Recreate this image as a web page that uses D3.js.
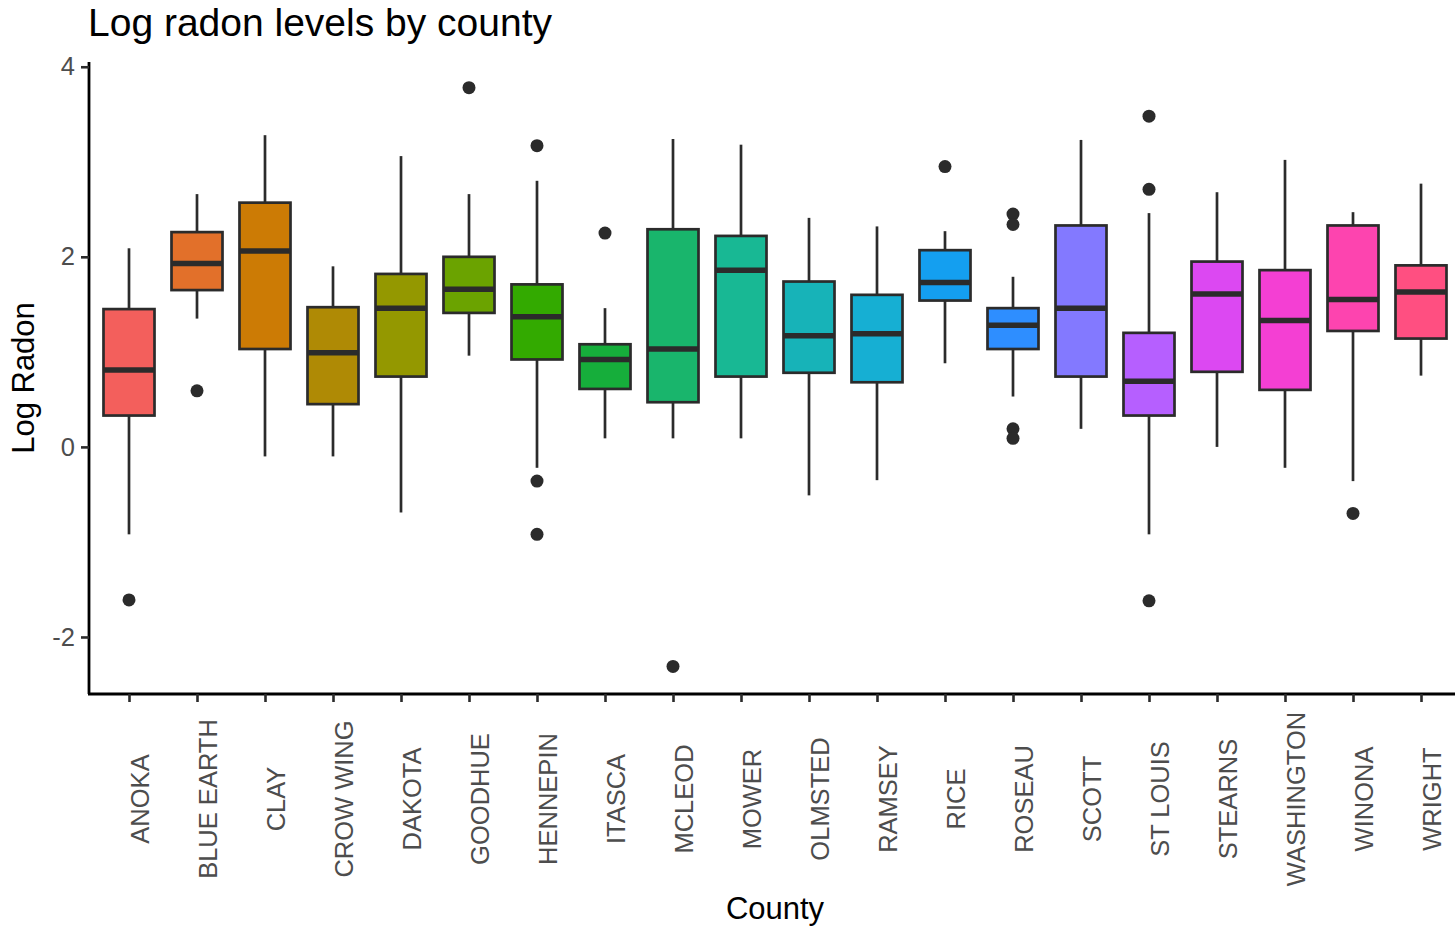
<!DOCTYPE html>
<html>
<head>
<meta charset="utf-8">
<script src="https://cdn.jsdelivr.net/npm/d3@7"></script>
<style>
  body { margin: 0; background: #fff; }
  text { font-family: "Liberation Sans", Arial, sans-serif; }
</style>
</head>
<body>
<div id="chart"></div>
<script>
var size = { width: 1455, height: 927 };

// County names on the x axis
var counties = ["ANOKA", "BLUE EARTH", "CLAY", "CROW WING", "DAKOTA", "GOODHUE", "HENNEPIN",
    "ITASCA", "MCLEOD", "MOWER", "OLMSTED", "RAMSEY", "RICE", "ROSEAU", "SCOTT", "ST LOUIS",
    "STEARNS", "WASHINGTON", "WINONA", "WRIGHT"];

// Box statistics
var whiskerLow  = [-0.92, 1.35, -0.10, -0.10, -0.69, 0.96, -0.22, 0.09, 0.09, 0.09, -0.51, -0.35, 0.88, 0.53, 0.19, -0.92, 0.00, -0.22, -0.36, 0.75];
var q1          = [0.33, 1.65, 1.03, 0.45, 0.74, 1.41, 0.92, 0.61, 0.47, 0.74, 0.78, 0.68, 1.54, 1.03, 0.74, 0.33, 0.79, 0.60, 1.22, 1.14];
var median      = [0.81, 1.93, 2.06, 0.99, 1.46, 1.66, 1.37, 0.92, 1.03, 1.86, 1.17, 1.19, 1.73, 1.28, 1.46, 0.69, 1.61, 1.33, 1.55, 1.63];
var q3          = [1.45, 2.26, 2.57, 1.47, 1.82, 2.00, 1.71, 1.08, 2.29, 2.22, 1.74, 1.60, 2.07, 1.46, 2.33, 1.20, 1.95, 1.86, 2.33, 1.91];
var whiskerHigh = [2.09, 2.66, 3.28, 1.90, 3.06, 2.66, 2.80, 1.46, 3.24, 3.18, 2.41, 2.32, 2.27, 1.79, 3.23, 2.46, 2.68, 3.02, 2.47, 2.77];
var outliers    = [[-1.61], [0.59], [], [], [], [3.78], [3.17, -0.36, -0.92], [2.25], [-2.31], [], [], [],
    [2.95], [2.45, 2.34, 0.19, 0.09], [], [3.48, 2.71, -1.62], [], [], [-0.70], []];

var fillColors = ["#F35F5C", "#E2702A", "#CC7B05", "#AF8A05", "#949800", "#6BA300", "#33AA00",
    "#16AE3B", "#19B56C", "#18B894", "#17B3B8", "#16AFD3", "#149FF0", "#2E8EFF", "#8379FF",
    "#B65FFF", "#DC48F2", "#F43FD3", "#FD44AF", "#FF4F81"];

var yTicks = [-2, 0, 2, 4];

var lineColor = "#2b2b2b";
var textGrey = "#4D4D4D";

var svg = d3.select("#chart").append("svg")
    .attr("width", size.width)
    .attr("height", size.height);

// Scales (discrete axis expanded by 0.6 of a step on each side)
var x = d3.scalePoint()
    .domain(counties)
    .range([88.2, 1461.8])
    .padding(0.6);

var y = d3.scaleLinear()
    .domain([-2.6, 4.05])
    .range([694, 62]);

var boxWidth = x.step() * 0.75;

// Boxes
var boxes = svg.append("g").selectAll("g")
    .data(counties)
    .enter()
    .append("g");

// Whiskers
boxes.append("line")
    .attr("x1", d => x(d)).attr("x2", d => x(d))
    .attr("y1", (d, i) => y(whiskerHigh[i]))
    .attr("y2", (d, i) => y(q3[i]))
    .attr("stroke", lineColor).attr("stroke-width", 2.7);

boxes.append("line")
    .attr("x1", d => x(d)).attr("x2", d => x(d))
    .attr("y1", (d, i) => y(q1[i]))
    .attr("y2", (d, i) => y(whiskerLow[i]))
    .attr("stroke", lineColor).attr("stroke-width", 2.7);

boxes.append("rect")
    .attr("x", d => x(d) - boxWidth / 2)
    .attr("width", boxWidth)
    .attr("y", (d, i) => y(q3[i]))
    .attr("height", (d, i) => y(q1[i]) - y(q3[i]))
    .attr("fill", (d, i) => fillColors[i])
    .attr("stroke", lineColor).attr("stroke-width", 2.7);

// Median
boxes.append("line")
    .attr("x1", d => x(d) - boxWidth / 2)
    .attr("x2", d => x(d) + boxWidth / 2)
    .attr("y1", (d, i) => y(median[i]))
    .attr("y2", (d, i) => y(median[i]))
    .attr("stroke", lineColor).attr("stroke-width", 5.5);

// Outliers
boxes.each(function (d, i) {
    d3.select(this).selectAll("circle")
        .data(outliers[i])
        .enter()
        .append("circle")
        .attr("cx", x(d))
        .attr("cy", v => y(v))
        .attr("r", 6.5)
        .attr("fill", lineColor);
});

// Y axis
var yAxis = svg.append("g")
    .attr("transform", "translate(89,0)")
    .call(d3.axisLeft(y).tickValues(yTicks).tickSize(8).tickPadding(6).tickFormat(d => String(d)));
yAxis.select(".domain").attr("stroke", "#000").attr("stroke-width", 2.8)
    .attr("d", "M0," + 62 + "V" + 694);
yAxis.selectAll(".tick line").attr("stroke", lineColor).attr("stroke-width", 2.6);
yAxis.selectAll(".tick text")
    .attr("fill", textGrey)
    .style("font-size", "25.5px")
    .style("font-family", "'Liberation Sans', Arial, sans-serif");

// X axis
var xAxis = svg.append("g")
    .attr("transform", "translate(0,694)")
    .call(d3.axisBottom(x).tickSize(8).tickSizeOuter(0));
xAxis.select(".domain").attr("stroke", "#000").attr("stroke-width", 2.8)
    .attr("d", "M88,0H" + size.width);
xAxis.selectAll(".tick line").attr("stroke", lineColor).attr("stroke-width", 2.6);
xAxis.selectAll(".tick text")
    .attr("fill", textGrey)
    .style("font-size", "25.5px")
    .style("font-family", "'Liberation Sans', Arial, sans-serif")
    .attr("text-anchor", "middle")
    .attr("dy", null)
    .attr("y", null)
    .attr("transform", "translate(19,105) rotate(-90)");

// Titles
svg.append("text")
    .attr("x", 88)
    .attr("y", 36)
    .attr("fill", "#000")
    .style("font-size", "39px")
    .text("Log radon levels by county");

svg.append("text")
    .attr("transform", "translate(34," + ((62 + 694) / 2) + ") rotate(-90)")
    .attr("text-anchor", "middle")
    .attr("fill", "#000")
    .style("font-size", "31px")
    .text("Log Radon");

svg.append("text")
    .attr("x", 775)
    .attr("y", 919)
    .attr("text-anchor", "middle")
    .attr("fill", "#000")
    .style("font-size", "31px")
    .text("County");
</script>
</body>
</html>
